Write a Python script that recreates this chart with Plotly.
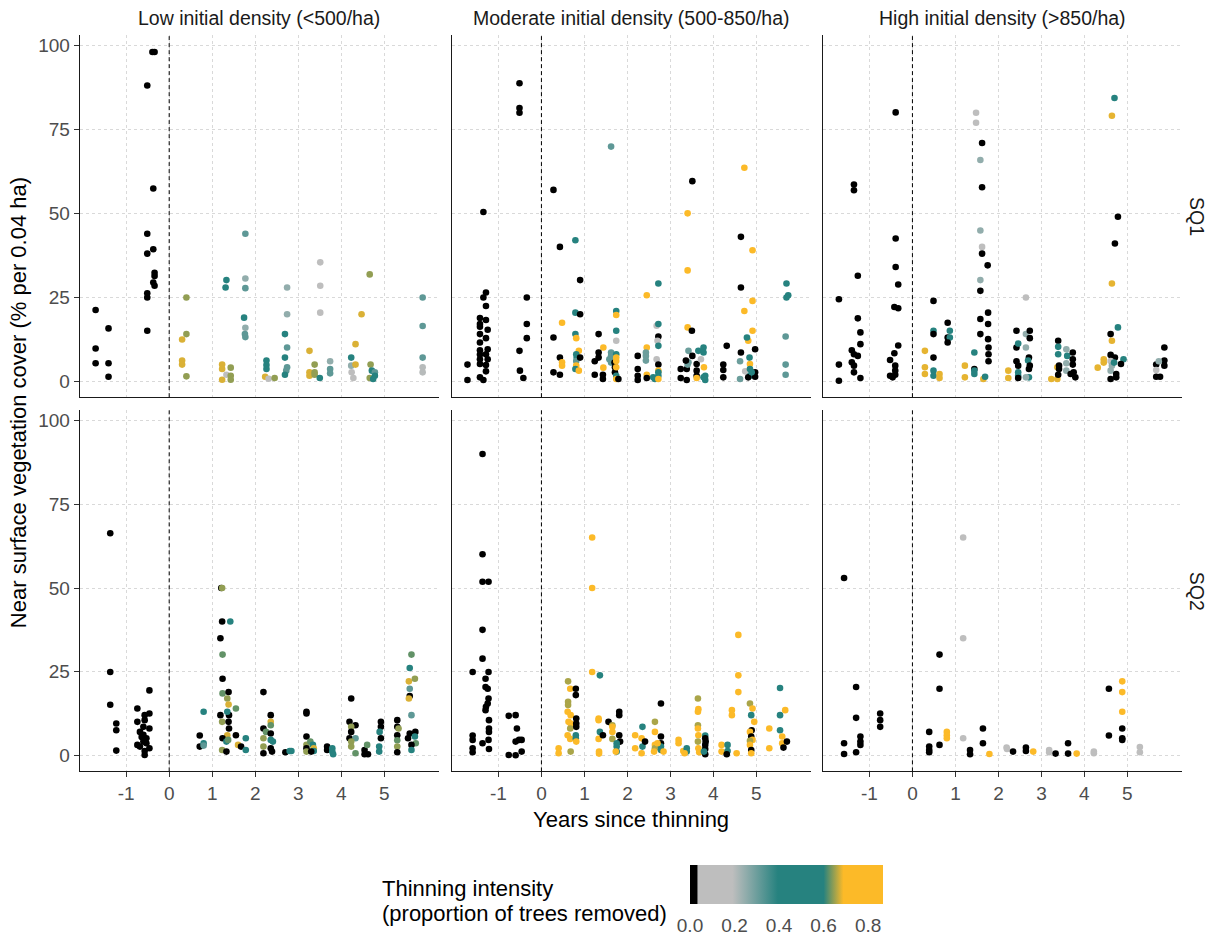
import plotly.graph_objects as go

# ---------------- data: (years since thinning, cover %, thinning intensity) ----------------
low_sq1 = [
    (-1.71, 21.2, 0), (-1.71, 9.7, 0), (-1.71, 5.3, 0), (-1.41, 15.7, 0), (-1.41, 5.3, 0), (-1.41, 1.3, 0),
    (-0.39, 98.1, 0), (-0.34, 98.1, 0), (-0.51, 88.1, 0), (-0.37, 57.4, 0), (-0.51, 43.9, 0), (-0.51, 38.0, 0),
    (-0.37, 39.3, 0), (-0.34, 32.3, 0), (-0.34, 31.3, 0), (-0.37, 29.4, 0), (-0.34, 28.4, 0), (-0.51, 26.2, 0),
    (-0.51, 24.9, 0), (-0.51, 15.0, 0),
    (0.40, 24.9, 0.645), (0.40, 14.0, 0.645), (0.30, 12.4, 0.675), (0.30, 6.1, 0.675), (0.30, 4.9, 0.675), (0.40, 1.4, 0.645),
    (1.33, 30.1, 0.5), (1.31, 27.9, 0.5), (1.23, 4.9, 0.675), (1.23, 3.6, 0.675), (1.23, 0.4, 0.675), (1.33, 1.9, 0.12),
    (1.43, 4.0, 0.645), (1.43, 1.6, 0.645), (1.43, 0.4, 0.645),
    (1.77, 43.9, 0.32), (1.77, 30.6, 0.25), (1.77, 27.7, 0.32), (1.74, 18.9, 0.5), (1.77, 15.9, 0.25), (1.76, 14.0, 0.32), (1.77, 13.1, 0.32),
    (2.26, 6.1, 0.5), (2.26, 4.8, 0.5), (2.26, 3.6, 0.5), (2.23, 1.3, 0.675), (2.31, 0.7, 0.12), (2.45, 0.9, 0.645),
    (2.74, 27.9, 0.25), (2.74, 19.9, 0.25), (2.69, 14.0, 0.5), (2.74, 10.0, 0.32), (2.69, 7.0, 0.5), (2.74, 4.1, 0.32),
    (2.72, 3.1, 0.32), (2.69, 1.9, 0.5),
    (3.26, 9.0, 0.675), (3.26, 2.6, 0.675), (3.26, 1.6, 0.675), (3.38, 4.9, 0.645), (3.38, 2.6, 0.645), (3.38, 1.9, 0.645),
    (3.51, 35.4, 0.12), (3.51, 28.4, 0.12), (3.51, 20.4, 0.12), (3.50, 0.9, 0.5), (3.74, 5.9, 0.25), (3.74, 3.6, 0.32), (3.74, 2.3, 0.32),
    (4.23, 7.0, 0.5), (4.23, 4.6, 0.25), (4.24, 2.6, 0.12), (4.28, 0.9, 0.12), (4.33, 11.0, 0.675), (4.47, 19.9, 0.675),
    (4.33, 4.9, 0.675), (4.66, 31.8, 0.645), (4.68, 4.9, 0.645), (4.66, 0.9, 0.645), (4.71, 3.1, 0.5), (4.78, 2.6, 0.32),
    (4.78, 1.6, 0.5), (4.74, 0.6, 0.5),
    (5.89, 24.9, 0.32), (5.89, 16.4, 0.32), (5.89, 7.0, 0.32), (5.89, 4.1, 0.2), (5.89, 2.6, 0.2),
]

mod_sq1 = [
    (-1.72, 4.9, 0), (-1.72, 0.3, 0),
    (-1.35, 50.4, 0), (-1.29, 26.4, 0), (-1.35, 24.9, 0), (-1.29, 22.4, 0), (-1.43, 18.8, 0), (-1.29, 18.2, 0),
    (-1.43, 17.0, 0), (-1.43, 16.2, 0), (-1.25, 15.3, 0), (-1.43, 14.0, 0), (-1.29, 12.8, 0), (-1.43, 11.5, 0),
    (-1.25, 9.5, 0), (-1.43, 9.2, 0), (-1.29, 8.0, 0), (-1.43, 7.9, 0), (-1.25, 6.5, 0), (-1.43, 6.5, 0),
    (-1.43, 5.1, 0), (-1.29, 4.8, 0), (-1.29, 2.9, 0), (-1.43, 1.1, 0), (-1.35, 0.3, 0),
    (-0.51, 88.8, 0), (-0.51, 81.4, 0), (-0.51, 80.0, 0), (-0.34, 24.9, 0), (-0.34, 17.0, 0), (-0.34, 12.8, 0),
    (-0.51, 9.0, 0), (-0.50, 3.1, 0), (-0.42, 0.9, 0),
    (0.28, 57.0, 0), (0.28, 13.0, 0), (0.28, 2.6, 0), (0.43, 40.0, 0), (0.43, 7.0, 0), (0.43, 1.9, 0),
    (0.48, 17.4, 0.78), (0.48, 5.6, 0.78), (0.48, 4.6, 0.78),
    (0.79, 42.0, 0.5), (0.90, 30.1, 0), (0.79, 20.4, 0.5), (0.90, 19.9, 0), (0.79, 14.0, 0.5), (0.81, 12.8, 0.78),
    (0.87, 9.0, 0.78), (0.81, 8.0, 0.5), (0.82, 7.0, 0.5), (0.81, 6.0, 0.32), (0.90, 7.0, 0), (0.81, 4.6, 0.78),
    (0.79, 3.6, 0.5), (0.87, 3.1, 0.78),
    (1.33, 14.0, 0), (1.44, 10.0, 0.78), (1.33, 8.5, 0), (1.24, 5.9, 0), (1.33, 7.0, 0), (1.44, 4.0, 0.78),
    (1.24, 1.9, 0), (1.43, 1.9, 0), (1.43, 0.6, 0),
    (1.62, 69.9, 0.32), (1.62, 8.5, 0.32), (1.62, 7.5, 0.32), (1.58, 6.5, 0.32), (1.62, 5.5, 0.32), (1.70, 5.5, 0),
    (1.71, 4.1, 0), (1.71, 2.6, 0),
    (1.74, 20.9, 0.5), (1.74, 19.7, 0.78), (1.74, 15.0, 0.5), (1.74, 12.0, 0.12), (1.74, 8.0, 0.5), (1.74, 7.0, 0.78),
    (1.74, 6.0, 0.78), (1.74, 4.1, 0.78), (1.74, 1.6, 0.5), (1.74, 0.6, 0.78), (1.79, 0.6, 0),
    (2.24, 7.5, 0), (2.24, 3.6, 0), (2.24, 1.6, 0), (2.24, 0.3, 0), (2.45, 25.6, 0.78), (2.45, 10.0, 0.78),
    (2.43, 8.5, 0.3), (2.43, 7.5, 0.3), (2.43, 6.1, 0.3), (2.45, 1.9, 0.78), (2.45, 0.9, 0), (2.60, 1.1, 0.5), (2.64, 0.6, 0.5),
    (2.68, 16.5, 0.12), (2.72, 29.1, 0.5), (2.72, 17.0, 0.5), (2.72, 13.3, 0), (2.70, 12.0, 0.12), (2.72, 10.5, 0.5),
    (2.68, 6.5, 0.12), (2.72, 4.9, 0), (2.72, 3.1, 0.78), (2.72, 2.6, 0.5), (2.72, 1.6, 0.5), (2.72, 0.6, 0.78),
    (3.51, 59.6, 0), (3.40, 50.0, 0.78), (3.40, 33.0, 0.78), (3.40, 16.0, 0.78), (3.50, 15.0, 0), (3.24, 3.6, 0),
    (3.24, 0.9, 0), (3.38, 3.6, 0), (3.38, 0.3, 0), (3.42, 9.0, 0.3), (3.42, 5.6, 0.3), (3.40, 4.9, 0.3),
    (3.36, 6.1, 0), (3.51, 7.5, 0), (3.61, 5.1, 0), (3.61, 3.1, 0), (3.61, 1.6, 0), (3.71, 6.5, 0.12),
    (3.65, 9.0, 0.5), (3.77, 10.0, 0.5), (3.77, 8.5, 0.5), (3.78, 4.1, 0.78), (3.61, 0.9, 0.78), (3.81, 1.6, 0.5),
    (3.81, 0.3, 0.5), (3.77, 1.1, 0.5),
    (4.23, 4.9, 0), (4.23, 3.3, 0), (4.23, 1.1, 0), (4.31, 10.5, 0), (4.64, 43.0, 0), (4.64, 27.9, 0), (4.64, 8.5, 0),
    (4.72, 63.6, 0.78), (4.91, 39.0, 0.78), (4.91, 23.9, 0.78), (4.72, 20.9, 0.78), (4.91, 15.0, 0.78), (4.81, 12.0, 0.78),
    (4.78, 13.0, 0.5), (4.84, 7.0, 0.5), (4.62, 5.9, 0.3), (4.62, 0.6, 0.3), (4.74, 2.9, 0.12), (4.85, 5.1, 0.78),
    (4.85, 3.6, 0.5), (4.85, 1.6, 0.5), (4.97, 9.5, 0), (4.97, 2.6, 0), (4.97, 1.3, 0), (4.81, 1.1, 0), (4.89, 2.6, 0.5),
    (5.70, 29.1, 0.4), (5.74, 25.6, 0.4), (5.70, 24.9, 0.4), (5.68, 13.3, 0.32), (5.68, 4.9, 0.32), (5.68, 1.9, 0.32),
]

high_sq1 = [
    (-1.71, 24.4, 0), (-1.71, 4.9, 0), (-1.71, 0.1, 0),
    (-1.36, 58.6, 0), (-1.36, 56.9, 0), (-1.27, 31.4, 0), (-1.27, 18.7, 0), (-1.21, 14.5, 0), (-1.21, 11.0, 0),
    (-1.41, 9.2, 0), (-1.36, 8.0, 0), (-1.27, 7.5, 0), (-1.41, 5.6, 0), (-1.36, 4.6, 0), (-1.36, 2.6, 0), (-1.21, 0.9, 0),
    (-0.39, 80.1, 0), (-0.39, 42.5, 0), (-0.39, 34.0, 0), (-0.33, 28.8, 0), (-0.42, 22.1, 0), (-0.33, 21.7, 0),
    (-0.33, 10.6, 0), (-0.42, 8.3, 0), (-0.52, 6.3, 0), (-0.40, 4.6, 0), (-0.40, 3.1, 0), (-0.52, 1.6, 0),
    (-0.46, 1.1, 0), (-0.40, 1.9, 0),
    (0.49, 23.9, 0), (0.49, 7.0, 0), (0.29, 9.0, 0.68), (0.29, 4.1, 0.68), (0.29, 2.1, 0.68), (0.49, 15.0, 0.5),
    (0.49, 14.0, 0), (0.49, 3.1, 0.5), (0.49, 1.6, 0.5), (0.63, 2.1, 0.68), (0.63, 0.9, 0.68), (0.82, 17.4, 0),
    (0.87, 15.0, 0.5), (0.82, 13.0, 0), (0.87, 13.0, 0.5), (0.82, 11.5, 0),
    (1.22, 4.6, 0.68), (1.22, 1.1, 0.68), (1.44, 8.5, 0.5), (1.44, 3.6, 0), (1.44, 3.1, 0.5), (1.44, 2.1, 0.5),
    (1.48, 80.0, 0.12), (1.48, 77.0, 0.12), (1.62, 71.0, 0), (1.58, 65.9, 0.25), (1.62, 57.8, 0), (1.58, 44.9, 0.25),
    (1.62, 40.0, 0.12), (1.62, 38.0, 0), (1.75, 34.5, 0), (1.58, 30.1, 0.25), (1.58, 26.9, 0), (1.76, 20.4, 0),
    (1.58, 18.5, 0), (1.76, 17.0, 0), (1.58, 14.0, 0), (1.76, 12.5, 0), (1.77, 10.0, 0), (1.77, 8.0, 0),
    (1.77, 5.9, 0), (1.65, 0.6, 0.68), (1.69, 1.3, 0.5),
    (2.23, 3.1, 0.68), (2.23, 0.9, 0.68), (2.42, 15.0, 0), (2.42, 10.0, 0), (2.46, 11.2, 0.5), (2.42, 5.9, 0),
    (2.46, 4.6, 0), (2.46, 2.6, 0.5), (2.46, 1.6, 0.5), (2.46, 0.9, 0), (2.64, 24.9, 0.12), (2.64, 14.0, 0.25),
    (2.73, 15.0, 0), (2.73, 12.8, 0), (2.64, 10.0, 0.25), (2.71, 7.0, 0), (2.69, 6.1, 0.5), (2.73, 4.6, 0),
    (2.71, 3.6, 0), (2.71, 1.1, 0.5), (2.64, 1.1, 0.25),
    (3.23, 0.6, 0.68), (3.37, 0.6, 0.68), (3.37, 4.1, 0.68), (3.39, 12.0, 0), (3.39, 10.2, 0.5), (3.39, 8.0, 0.5),
    (3.41, 4.6, 0), (3.41, 3.6, 0), (3.39, 1.9, 0), (3.58, 9.5, 0.25), (3.60, 7.5, 0.5), (3.58, 5.3, 0.25),
    (3.58, 3.1, 0.25), (3.73, 8.5, 0), (3.73, 6.5, 0), (3.73, 4.9, 0), (3.75, 2.6, 0), (3.79, 1.1, 0), (3.68, 2.1, 0),
    (4.70, 84.4, 0.5), (4.64, 79.1, 0.68), (4.78, 49.0, 0), (4.71, 41.0, 0), (4.64, 29.1, 0.68), (4.78, 16.0, 0.5),
    (4.61, 14.0, 0), (4.64, 12.0, 0.68), (4.31, 4.0, 0.68), (4.45, 6.5, 0.68), (4.45, 5.5, 0.68), (4.61, 7.8, 0),
    (4.71, 7.0, 0), (4.61, 6.0, 0.12), (4.64, 4.6, 0.25), (4.61, 3.1, 0.25), (4.69, 5.5, 0.5), (4.91, 6.5, 0.5),
    (4.85, 5.1, 0), (4.74, 2.1, 0), (4.61, 0.6, 0), (4.74, 1.1, 0),
    (5.86, 10.0, 0), (5.86, 6.1, 0), (5.86, 4.6, 0), (5.67, 4.9, 0), (5.73, 5.9, 0.25), (5.67, 3.3, 0.12),
    (5.67, 1.3, 0), (5.76, 1.3, 0),
]

low_sq2 = [
    (-1.37, 66.4, 0), (-1.37, 24.9, 0), (-1.37, 15.1, 0), (-1.23, 9.5, 0), (-1.23, 7.5, 0), (-1.23, 1.4, 0),
    (-0.46, 19.4, 0), (-0.74, 14.0, 0), (-0.46, 12.5, 0), (-0.57, 12.0, 0), (-0.74, 10.0, 0), (-0.57, 10.5, 0),
    (-0.60, 8.5, 0), (-0.46, 8.0, 0), (-0.68, 7.0, 0), (-0.60, 6.1, 0), (-0.53, 5.1, 0), (-0.74, 3.1, 0),
    (-0.60, 4.1, 0), (-0.46, 2.1, 0), (-0.57, 1.3, 0), (-0.57, 0.1, 0), (-0.68, 2.6, 0), (-0.53, 3.6, 0), (-0.64, 5.5, 0),
    (0.80, 13.0, 0.5), (0.71, 5.9, 0), (0.71, 2.6, 0), (0.80, 3.6, 0.5), (0.80, 2.9, 0.32),
    (1.21, 50.0, 0), (1.23, 50.0, 0.645), (1.23, 40.0, 0), (1.42, 40.0, 0.5), (1.19, 35.0, 0), (1.24, 30.1, 0.625),
    (1.24, 22.9, 0), (1.24, 18.5, 0.625), (1.38, 18.9, 0), (1.35, 17.0, 0.645), (1.38, 15.2, 0.675), (1.55, 14.0, 0.625),
    (1.19, 12.0, 0), (1.39, 12.0, 0), (1.35, 13.0, 0.5), (1.23, 10.0, 0.645), (1.38, 10.0, 0), (1.39, 8.0, 0),
    (1.35, 6.0, 0.675), (1.24, 5.1, 0), (1.33, 4.1, 0.5), (1.37, 4.6, 0.625), (1.55, 6.0, 0), (1.60, 3.1, 0.675),
    (1.67, 2.6, 0), (1.78, 5.1, 0.5), (1.78, 1.6, 0.5), (1.23, 1.6, 0.645), (1.33, 1.1, 0),
    (2.19, 18.9, 0), (2.36, 12.0, 0), (2.36, 10.0, 0.675), (2.36, 9.0, 0.625), (2.19, 8.0, 0), (2.25, 7.0, 0.625),
    (2.19, 5.1, 0.645), (2.36, 6.5, 0), (2.36, 4.6, 0.5), (2.41, 4.1, 0.5), (2.19, 2.6, 0.645), (2.36, 2.1, 0),
    (2.19, 0.6, 0), (2.39, 1.1, 0),
    (2.70, 0.9, 0), (2.80, 1.3, 0.5), (2.84, 1.3, 0.5),
    (3.19, 13.0, 0), (3.19, 12.5, 0), (3.19, 5.6, 0), (3.19, 3.1, 0.645), (3.19, 2.1, 0), (3.19, 1.1, 0.645),
    (3.28, 4.1, 0.625), (3.34, 3.1, 0.5), (3.36, 2.1, 0.675), (3.36, 1.3, 0.5), (3.30, 1.1, 0),
    (3.67, 2.6, 0), (3.67, 1.6, 0), (3.79, 2.1, 0.5), (3.79, 1.1, 0.5), (3.81, 0.3, 0.5),
    (4.23, 17.0, 0), (4.19, 10.0, 0), (4.33, 9.0, 0), (4.23, 8.5, 0.645), (4.23, 7.0, 0), (4.19, 5.1, 0),
    (4.33, 5.1, 0.32), (4.23, 4.1, 0.645), (4.23, 2.6, 0.645), (4.33, 0.6, 0.625), (4.54, 1.6, 0), (4.54, 0.3, 0),
    (4.62, 0.3, 0), (4.60, 3.1, 0.625), (4.92, 10.0, 0), (4.92, 8.5, 0), (4.89, 7.0, 0.5), (4.92, 5.1, 0),
    (4.88, 2.6, 0.5), (4.88, 1.1, 0.5),
    (5.30, 10.5, 0), (5.30, 8.5, 0), (5.33, 8.0, 0.645), (5.30, 6.0, 0), (5.30, 4.5, 0.625), (5.30, 2.6, 0.645),
    (5.30, 0.9, 0), (5.63, 30.1, 0.625), (5.59, 26.1, 0.5), (5.57, 22.1, 0.675), (5.71, 22.9, 0.645), (5.59, 19.9, 0.32),
    (5.59, 17.7, 0), (5.57, 17.0, 0.675), (5.63, 12.0, 0.32), (5.72, 7.0, 0), (5.59, 6.5, 0), (5.55, 5.1, 0),
    (5.73, 3.6, 0.625), (5.63, 3.1, 0), (5.63, 1.6, 0.5), (5.71, 5.6, 0.5),
]

mod_sq2 = [
    (-1.60, 24.9, 0), (-1.60, 5.9, 0), (-1.60, 4.6, 0), (-1.60, 2.1, 0), (-1.60, 0.9, 0),
    (-1.37, 90.1, 0), (-1.37, 60.1, 0), (-1.37, 51.9, 0), (-1.23, 51.9, 0), (-1.37, 37.5, 0), (-1.37, 28.9, 0),
    (-1.23, 24.9, 0), (-1.30, 22.9, 0), (-1.30, 20.4, 0), (-1.25, 19.9, 0), (-1.23, 17.0, 0), (-1.25, 15.5, 0),
    (-1.29, 14.5, 0), (-1.30, 13.5, 0), (-1.22, 10.5, 0), (-1.22, 8.0, 0), (-1.22, 7.0, 0), (-1.23, 4.6, 0),
    (-1.37, 3.6, 0), (-1.22, 1.9, 0),
    (-0.76, 11.8, 0), (-0.60, 12.0, 0), (-0.57, 8.0, 0), (-0.60, 4.1, 0), (-0.52, 4.6, 0), (-0.46, 4.6, 0),
    (-0.46, 1.1, 0), (-0.76, 0.1, 0), (-0.60, 0.0, 0),
    (0.40, 2.1, 0.78), (0.40, 0.6, 0.78), (0.62, 22.1, 0.655), (0.67, 19.9, 0.78), (0.62, 16.0, 0.655), (0.62, 15.0, 0.655),
    (0.61, 13.0, 0.78), (0.68, 12.0, 0.78), (0.63, 10.0, 0.78), (0.68, 9.5, 0.78), (0.67, 8.0, 0.655), (0.61, 6.0, 0.78),
    (0.67, 4.9, 0.78), (0.68, 1.1, 0.655), (0.80, 19.9, 0), (0.80, 18.0, 0), (0.81, 11.0, 0), (0.81, 9.5, 0),
    (0.81, 8.5, 0), (0.80, 6.0, 0.5), (0.80, 5.0, 0.5), (0.81, 4.1, 0.78),
    (1.18, 65.1, 0.78), (1.18, 50.0, 0.78), (1.18, 24.9, 0.78), (1.36, 23.9, 0.5), (1.33, 11.0, 0.78), (1.33, 10.5, 0.78),
    (1.33, 4.9, 0.78), (1.34, 1.1, 0.78), (1.34, 0.5, 0.78), (1.36, 7.0, 0.5), (1.43, 6.0, 0), (1.56, 10.0, 0),
    (1.65, 9.0, 0.655), (1.65, 8.5, 0.78), (1.65, 7.0, 0.78), (1.65, 4.9, 0.655), (1.81, 13.0, 0), (1.81, 12.0, 0),
    (1.81, 6.0, 0), (1.83, 4.1, 0), (1.75, 3.6, 0.5), (1.75, 2.6, 0.5), (1.75, 1.1, 0.5), (1.73, 1.1, 0.78),
    (2.18, 6.0, 0.78), (2.18, 2.1, 0.78), (2.33, 5.1, 0.78), (2.35, 8.5, 0.5), (2.35, 2.6, 0.5), (2.33, 0.6, 0.78),
    (2.41, 4.1, 0), (2.64, 10.0, 0.655), (2.64, 7.0, 0.78), (2.64, 3.1, 0.78), (2.64, 2.1, 0.655), (2.62, 1.1, 0.78),
    (2.78, 15.5, 0), (2.78, 5.6, 0), (2.78, 3.6, 0), (2.78, 2.6, 0.5), (2.78, 1.6, 0.5), (2.84, 1.1, 0.78), (2.70, 3.6, 0.78),
    (3.19, 4.6, 0.78), (3.19, 3.6, 0.78), (3.30, 1.3, 0.78), (3.38, 2.1, 0.5), (3.38, 1.1, 0.5), (3.33, 0.6, 0.78),
    (3.64, 17.0, 0.655), (3.65, 13.8, 0.78), (3.64, 13.0, 0.78), (3.64, 9.0, 0.655), (3.64, 8.0, 0.78), (3.65, 6.0, 0.78),
    (3.64, 4.1, 0.655), (3.65, 2.1, 0.78), (3.67, 0.9, 0.78), (3.81, 5.9, 0.5), (3.81, 5.1, 0), (3.82, 4.1, 0),
    (3.81, 3.1, 0), (3.81, 1.9, 0), (3.81, 0.3, 0), (3.78, 1.1, 0.5),
    (4.19, 3.1, 0.78), (4.19, 1.1, 0.78), (4.33, 3.1, 0.5), (4.33, 1.3, 0.5), (4.31, 0.3, 0), (4.43, 13.5, 0.78),
    (4.43, 12.0, 0.78), (4.58, 36.0, 0.78), (4.58, 23.9, 0.78), (4.58, 18.9, 0.78), (4.54, 0.6, 0.78), (4.85, 15.5, 0.655),
    (4.91, 14.0, 0.78), (4.88, 12.0, 0.5), (4.95, 10.0, 0.78), (4.89, 7.5, 0), (4.85, 7.0, 0.78), (4.88, 5.6, 0),
    (4.91, 4.6, 0.78), (4.85, 4.3, 0.655), (4.85, 3.1, 0.78), (4.88, 1.6, 0), (4.88, 0.6, 0.78),
    (5.30, 8.0, 0.78), (5.30, 2.1, 0.78), (5.55, 20.1, 0.5), (5.55, 12.0, 0.5), (5.55, 7.5, 0.5), (5.67, 13.5, 0.78),
    (5.60, 5.6, 0.78), (5.60, 3.6, 0.78), (5.71, 4.1, 0), (5.63, 2.3, 0),
]

high_sq2 = [
    (-1.59, 53.0, 0), (-1.59, 3.6, 0), (-1.59, 0.4, 0), (-1.31, 20.4, 0), (-1.31, 11.2, 0), (-1.21, 5.6, 0),
    (-1.21, 4.1, 0), (-1.21, 3.1, 0), (-1.31, 0.9, 0), (-0.75, 12.5, 0), (-0.75, 10.5, 0), (-0.75, 8.5, 0),
    (0.39, 7.0, 0), (0.39, 2.6, 0), (0.39, 1.6, 0), (0.39, 0.9, 0), (0.63, 30.1, 0), (0.63, 19.9, 0), (0.63, 3.1, 0),
    (0.80, 7.0, 0.8), (0.80, 6.0, 0.8), (0.80, 5.1, 0.8), (1.18, 65.1, 0.12), (1.18, 35.0, 0.12), (1.18, 5.1, 0.12),
    (1.34, 1.6, 0), (1.34, 0.3, 0), (1.64, 8.0, 0), (1.64, 3.6, 0), (1.79, 0.4, 0.8), (2.19, 2.3, 0.12),
    (2.20, 1.9, 0.12), (2.34, 1.1, 0), (2.64, 2.3, 0), (2.64, 1.3, 0), (2.81, 1.1, 0.8), (3.18, 1.6, 0.12),
    (3.18, 0.9, 0.12), (3.33, 0.5, 0), (3.62, 3.6, 0), (3.62, 0.5, 0), (3.82, 0.5, 0.8), (4.22, 1.1, 0.12),
    (4.22, 0.6, 0.12), (4.57, 19.9, 0), (4.57, 5.9, 0), (4.88, 22.1, 0.8), (4.88, 18.9, 0.8), (4.88, 13.0, 0.8),
    (4.88, 8.0, 0), (4.88, 5.1, 0), (4.88, 4.6, 0), (5.29, 2.5, 0.12), (5.29, 0.9, 0.12),
]

col_titles = ["Low initial density (<500/ha)", "Moderate initial density (500-850/ha)", "High initial density (>850/ha)"]
row_titles = ["SQ1", "SQ2"]
x_ticks = [-1, 0, 1, 2, 3, 4, 5]
x_ticktext = ["-1", "0", "1", "2", "3", "4", "5"]
y_ticks = [0, 25, 50, 75, 100]
cbar_ticks = [0.0, 0.2, 0.4, 0.6, 0.8]

# ---------------- layout geometry ----------------
W, H = 1219, 937
FONT = "Liberation Sans, Arial, sans-serif"
col_px = [(79.7, 439.0), (452.0, 811.0), (823.0, 1182.0)]
row_px = [(35.0, 398.0), (411.0, 773.0)]
XR = [-2.08, 6.27]
YR = [-4.8, 103.2]
CMAX = 0.867
CB_X0, CB_X1, CB_Y0, CB_Y1 = 690.0, 883.0, 867.0, 906.0

colorscale = [
    [0.0, "#000000"], [0.034, "#000000"], [0.043, "#BEBEBE"], [0.22, "#BEBEBE"],
    [0.455, "#26827F"], [0.692, "#26827F"], [0.795, "#FCBA28"], [1.0, "#FCBA28"],
]

fig = go.Figure()
panels = [(low_sq1, 0, 0), (mod_sq1, 0, 1), (high_sq1, 0, 2),
          (low_sq2, 1, 0), (mod_sq2, 1, 1), (high_sq2, 1, 2)]

layout = {}
shapes = []
for i, (data, r, c) in enumerate(panels, start=1):
    xs = [d[0] for d in data]
    ys = [d[1] for d in data]
    cs = [d[2] for d in data]
    xa = "x" if i == 1 else f"x{i}"
    ya = "y" if i == 1 else f"y{i}"
    fig.add_trace(go.Scatter(
        x=xs, y=ys, mode="markers", xaxis=xa, yaxis=ya, showlegend=False,
        marker=dict(size=6.6, color=cs, coloraxis="coloraxis", line=dict(width=0)),
        hoverinfo="skip",
    ))
    bottom = (r == 1)
    left = (c == 0)
    x0, x1 = col_px[c]
    y0, y1 = row_px[r]
    layout["xaxis" if i == 1 else f"xaxis{i}"] = dict(
        domain=[x0 / W, x1 / W], anchor=ya, range=XR, tickvals=x_ticks, ticktext=x_ticktext,
        showgrid=True, gridcolor="#D9D9D9", gridwidth=1, griddash="dot",
        zeroline=False, showline=True, linecolor="#1A1A1A", linewidth=1.1,
        ticks="outside" if bottom else "", ticklen=5, tickcolor="#333333",
        showticklabels=bottom, tickfont=dict(family=FONT, size=19, color="#4D4D4D"),
        fixedrange=True,
    )
    layout["yaxis" if i == 1 else f"yaxis{i}"] = dict(
        domain=[1 - y1 / H, 1 - y0 / H], anchor=xa, range=YR, tickvals=y_ticks,
        showgrid=True, gridcolor="#D9D9D9", gridwidth=1, griddash="dot",
        zeroline=False, showline=True, linecolor="#1A1A1A", linewidth=1.1,
        ticks="outside" if left else "", ticklen=5, tickcolor="#333333",
        showticklabels=left, tickfont=dict(family=FONT, size=19, color="#4D4D4D"),
        fixedrange=True,
    )
    shapes.append(dict(type="line", xref=xa, yref=f"{ya} domain", x0=0, x1=0, y0=0, y1=1,
                       line=dict(color="black", width=1, dash="4px,3px"), layer="above"))

# white tick marks on the top edge of the colour bar (bottom edge ones come from the colorbar itself)
for v in cbar_ticks[1:]:
    xp = (CB_X0 + v / CMAX * (CB_X1 - CB_X0)) / W
    shapes.append(dict(type="line", xref="paper", yref="paper", x0=xp, x1=xp,
                       y0=1 - CB_Y0 / H, y1=1 - (CB_Y0 + 7) / H,
                       line=dict(color="white", width=1), layer="above"))
    shapes.append(dict(type="line", xref="paper", yref="paper", x0=xp, x1=xp,
                       y0=1 - CB_Y1 / H, y1=1 - (CB_Y1 - 7) / H,
                       line=dict(color="white", width=1), layer="above"))

annotations = []
for c, t in enumerate(col_titles):
    x0, x1 = col_px[c]
    annotations.append(dict(text=t, x=(x0 + x1) / 2 / W, y=1 - 18 / H, xref="paper", yref="paper",
                            showarrow=False, xanchor="center", yanchor="middle",
                            font=dict(family=FONT, size=19.5, color="#1A1A1A")))
for r, t in enumerate(row_titles):
    y0, y1 = row_px[r]
    annotations.append(dict(text=t, x=1197 / W, y=1 - (y0 + y1) / 2 / H, xref="paper", yref="paper",
                            showarrow=False, xanchor="center", yanchor="middle", textangle=90,
                            font=dict(family=FONT, size=19.5, color="#1A1A1A")))
annotations.append(dict(text="Years since thinning", x=(col_px[0][0] + col_px[2][1]) / 2 / W, y=1 - 821 / H,
                        xref="paper", yref="paper", showarrow=False, xanchor="center", yanchor="middle",
                        font=dict(family=FONT, size=22, color="black")))
annotations.append(dict(text="Near surface vegetation cover (% per 0.04 ha)", x=18 / W,
                        y=1 - (row_px[0][0] + row_px[1][1]) / 2 / H, xref="paper", yref="paper",
                        showarrow=False, xanchor="center", yanchor="middle", textangle=-90,
                        font=dict(family=FONT, size=22, color="black")))
annotations.append(dict(text="Thinning intensity", x=380 / W, y=1 - 890 / H,
                        xref="paper", yref="paper", showarrow=False, xanchor="left", yanchor="middle",
                        font=dict(family=FONT, size=22, color="black")))
annotations.append(dict(text="(proportion of trees removed)", x=380 / W, y=1 - 915 / H,
                        xref="paper", yref="paper", showarrow=False, xanchor="left", yanchor="middle",
                        font=dict(family=FONT, size=22, color="black")))

fig.update_layout(
    width=W, height=H, margin=dict(l=0, r=0, t=0, b=0),
    paper_bgcolor="white", plot_bgcolor="white",
    font=dict(family=FONT),
    coloraxis=dict(
        colorscale=colorscale, cmin=0, cmax=CMAX,
        colorbar=dict(
            orientation="h", x=CB_X0 / W, xanchor="left", y=1 - CB_Y0 / H, yanchor="top",
            len=CB_X1 - CB_X0, lenmode="pixels", thickness=CB_Y1 - CB_Y0, thicknessmode="pixels",
            xpad=0, ypad=0, outlinewidth=0,
            tickvals=cbar_ticks, ticktext=[f"{v:.1f}" for v in cbar_ticks],
            ticks="outside", ticklen=6, tickcolor="rgba(255,255,255,0)", tickwidth=1,
            tickfont=dict(family=FONT, size=19, color="#4D4D4D"),
            title=dict(text=""),
        ),
    ),
    shapes=shapes, annotations=annotations,
    **layout,
)

fig.write_html("out.html", include_plotlyjs=True, full_html=True,
               config={"displayModeBar": False},
               post_script="document.body.style.margin='0';document.body.style.overflow='hidden';")
